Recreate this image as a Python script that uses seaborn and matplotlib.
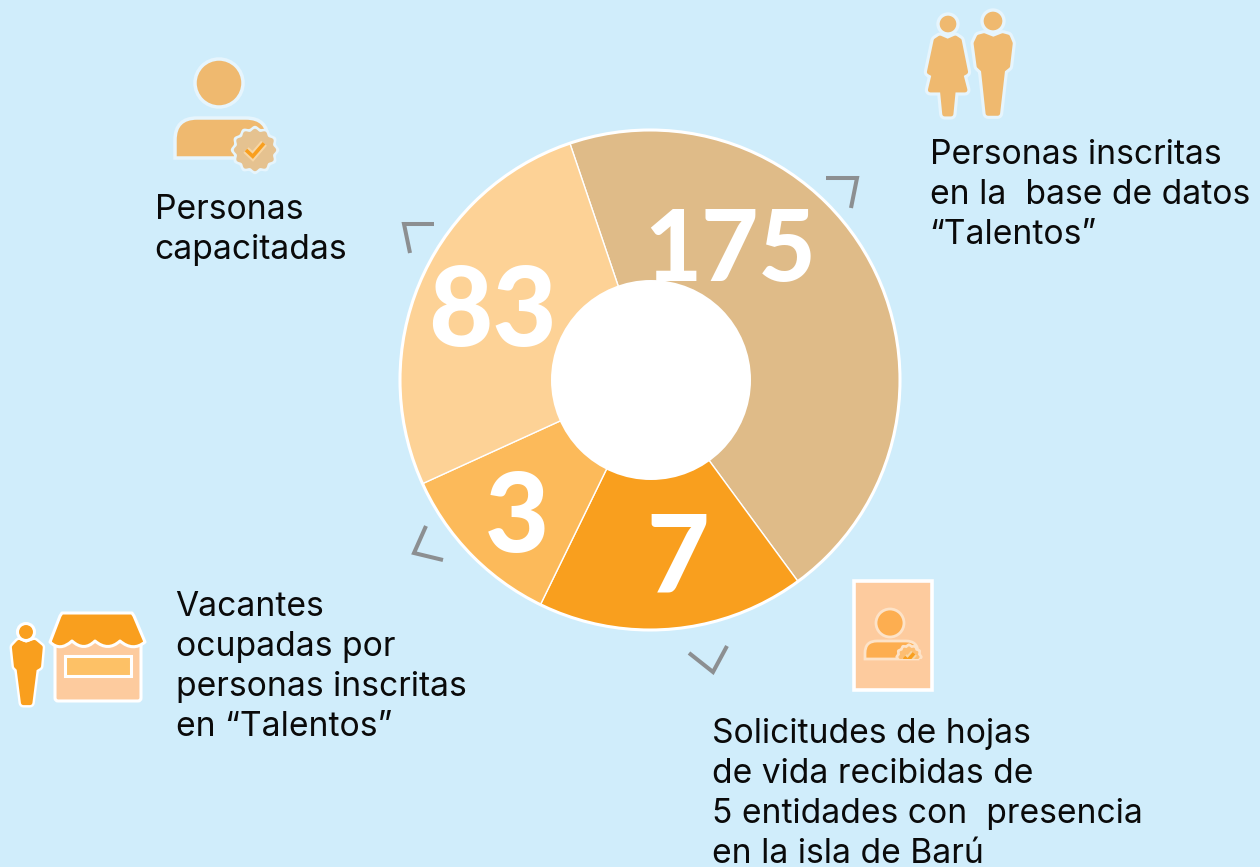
import matplotlib
matplotlib.use("Agg")
import matplotlib.pyplot as plt
from matplotlib.patches import Circle, Rectangle, FancyBboxPatch, Polygon, PathPatch
from matplotlib.path import Path
import numpy as np
import seaborn as sns

# wedge spans in degrees (the drawing is not proportional to the counts)
wedge_spans = [162.4, 62.3, 39.5, 95.8]
wedge_labels = ["175", "7", "3", "83"]
wedge_colors = ["#DFBB88", "#F99F1E", "#FCBA5A", "#FDD296"]

label_personas = ["Personas", "capacitadas"]
label_talentos = ["Personas inscritas", "en la  base de datos", "“Talentos”"]
label_vacantes = ["Vacantes", "ocupadas por", "personas inscritas", "en “Talentos”"]
label_hojas = ["Solicitudes de hojas", "de vida recibidas de", "5 entidades con  presencia", "en la isla de Barú"]

BG = "#D0EDFB"
ICON = "#EFB96F"
ORANGE = "#F99F1E"
PEACH = "#FDCB9E"
HALO = "#E6F5FD"
GREY = "#8C8F91"

sns.set_theme(style="white", rc={"figure.facecolor": BG, "axes.facecolor": "none"})
plt.rcParams["font.family"] = ["Inter", "DejaVu Sans"]

fig = plt.figure(figsize=(12.6, 8.67), dpi=100)

# pie axes, y going up
ax_pie = fig.add_axes([0, 0, 1, 1])
colors = sns.color_palette(wedge_colors)
ax_pie.pie(wedge_spans, colors=colors, center=(650, 867 - 380), radius=250, startangle=108.7,
           counterclock=False, wedgeprops={"edgecolor": "white", "linewidth": 1.0})
ax_pie.add_patch(Circle((650, 867 - 380), 250, fill=False, ec="white", lw=2.2))
ax_pie.add_patch(Circle((651, 867 - 380), 100, fc="white", ec="none"))
ax_pie.set_xlim(0, 1260)
ax_pie.set_ylim(0, 867)
ax_pie.set_aspect("auto")
ax_pie.axis("off")

# overlay in image pixels, y going down
ax = fig.add_axes([0, 0, 1, 1])
ax.set_xlim(0, 1260)
ax.set_ylim(867, 0)
ax.axis("off")


def zoomed(points, ox, oy):
	return [(ox + x / 3, oy + y / 3) for x, y in points]


def blob(points, fill, halo, halo_w=8):
	ax.add_patch(Polygon(points, closed=True, fc=halo, ec=halo, lw=halo_w, joinstyle="round"))
	ax.add_patch(Polygon(points, closed=True, fc=fill, ec=fill, lw=3.5, joinstyle="round"))


def head(x, y, r, fill, halo, w=2.2):
	ax.add_patch(Circle((x, y), r, fc=fill, ec=halo, lw=w))


def badge(x, y, r, fill, halo, clip=None):
	t = np.linspace(0, 2 * np.pi, 241)
	rr = r + r * 0.06 * np.cos(12 * t)
	outer = np.column_stack([x + (rr + 3) * np.cos(t), y + (rr + 3) * np.sin(t)])
	inner = np.column_stack([x + rr * np.cos(t), y + rr * np.sin(t)])
	parts = [Polygon(outer, fc=halo, ec="none"), Polygon(inner, fc=fill, ec="none")]
	for p in parts:
		ax.add_patch(p)
		if clip is not None:
			p.set_clip_path(clip)


def check_mark(x, y, s, clip=None):
	pts = [(x - s, y), (x - s * 0.25, y + s * 0.7), (x + s, y - s * 0.75)]
	for col, w in [("#F7D6A4", 5.5), (ORANGE, 2.6)]:
		ln, = ax.plot(*zip(*pts), color=col, lw=w, solid_capstyle="butt", solid_joinstyle="miter")
		if clip is not None:
			ln.set_clip_path(clip)


def top_round_body(x0, x1, y0, y1, r, fill, halo, w):
	verts = [(x0, y1), (x0, y0 + r), (x0, y0), (x0 + r, y0), (x1 - r, y0), (x1, y0), (x1, y0 + r), (x1, y1), (x0, y1)]
	codes = [Path.MOVETO, Path.LINETO, Path.CURVE3, Path.CURVE3, Path.LINETO, Path.CURVE3, Path.CURVE3, Path.LINETO, Path.CLOSEPOLY]
	ax.add_patch(PathPatch(Path(verts, codes), fc=fill, ec=halo, lw=w))


# person with badge, top left
head(219, 83, 24, ICON, HALO, 2.5)
top_round_body(175, 268, 118, 158, 22, ICON, HALO, 2.5)
badge(255, 150, 20, "#E5C290", HALO)
check_mark(255, 150, 9)

# woman and man, top right
woman = [(113, 124), (90, 114), (78, 122), (58, 216), (72, 224), (61, 270), (97, 270), (104, 342), (123, 342), (130, 270), (165, 270), (153, 224), (167, 216), (148, 122), (136, 114)]
man = [(250, 118), (222, 107), (207, 111), (198, 130), (207, 198), (220, 210), (234, 340), (263, 340), (278, 210), (293, 198), (301, 130), (293, 111), (278, 107)]
blob(zoomed(woman, 910, 0), ICON, HALO)
blob(zoomed(man, 910, 0), ICON, HALO)
head(948, 24, 10, ICON, HALO, 2.4)
head(993, 21, 11, ICON, HALO, 2.4)

# man and shop, bottom left
shop_man = [(78, 136), (57, 127), (43, 142), (49, 198), (57, 206), (70, 308), (90, 308), (103, 206), (116, 198), (121, 142), (103, 127)]
blob(zoomed(shop_man, 0, 600), ORANGE, "white", 7)
head(26, 632, 8.5, ORANGE, "white", 2.2)
ax.add_patch(FancyBboxPatch((55, 640), 86, 61, boxstyle="round,pad=0,rounding_size=3", fc=PEACH, ec="white", lw=2.2))
ax.add_patch(Rectangle((65, 656), 66, 20, fc="#FDC166", ec="white", lw=2.2))
roof_path = Path(
	[(50, 642), (60, 616), (62, 613), (132, 613), (134, 616), (145, 642),
	 (133, 652), (120, 641), (108, 652), (95, 641), (84, 652), (72, 641), (60, 652), (50, 642), (50, 642)],
	[Path.MOVETO, Path.LINETO, Path.LINETO, Path.LINETO, Path.LINETO, Path.LINETO,
	 Path.CURVE3, Path.CURVE3, Path.CURVE3, Path.CURVE3, Path.CURVE3, Path.CURVE3, Path.CURVE3, Path.CURVE3, Path.CLOSEPOLY])
ax.add_patch(PathPatch(roof_path, fc=ORANGE, ec="white", lw=2.2, joinstyle="round"))

# card with a faded person, bottom right
ax.add_patch(Rectangle((854, 581), 78, 109, fc=PEACH, ec="white", lw=2.6))
head(890, 623, 14, "#FDAE50", "#FDE3C8", 2)
top_round_body(865, 918, 641, 659, 12, "#FDAE50", "#FDE3C8", 2)
card_clip = Rectangle((853, 581), 78, 78, transform=ax.transData)
badge(909, 657, 10, "#FDBE72", "#FDE3C8", clip=card_clip)
check_mark(909, 657, 5, clip=card_clip)

# corner brackets around the ring
brackets = [
	[(434, 224), (404, 224), (410, 253)],
	[(826, 178), (857, 178), (851, 208)],
	[(426, 526), (414, 553), (443, 560)],
	[(689, 653), (713, 672), (727, 646)],
]
for b in brackets:
	ax.plot(*zip(*b), color=GREY, lw=2.9, solid_joinstyle="miter", solid_capstyle="butt")

# wedge numbers
number_spots = {"175": (730, 281, 71), "7": (678, 593, 78), "3": (517, 552, 80), "83": (492, 346, 80)}
for name in wedge_labels:
	x, y, size = number_spots[name]
	ax.text(x, y, name, color="white", fontsize=size, fontweight=900, family=["Lato", "DejaVu Sans"], ha="center", va="baseline")

# side labels, one line every 40 px
for lines, x, y0 in [(label_personas, 154.5, 219), (label_talentos, 929.5, 164), (label_vacantes, 175.5, 616), (label_hojas, 711.5, 743)]:
	for i, line in enumerate(lines):
		ax.text(x, y0 + i * 40, line, color="#0A0A0A", fontsize=24.2, ha="left", va="baseline")

fig.savefig("out.png", dpi=100, facecolor=BG)
